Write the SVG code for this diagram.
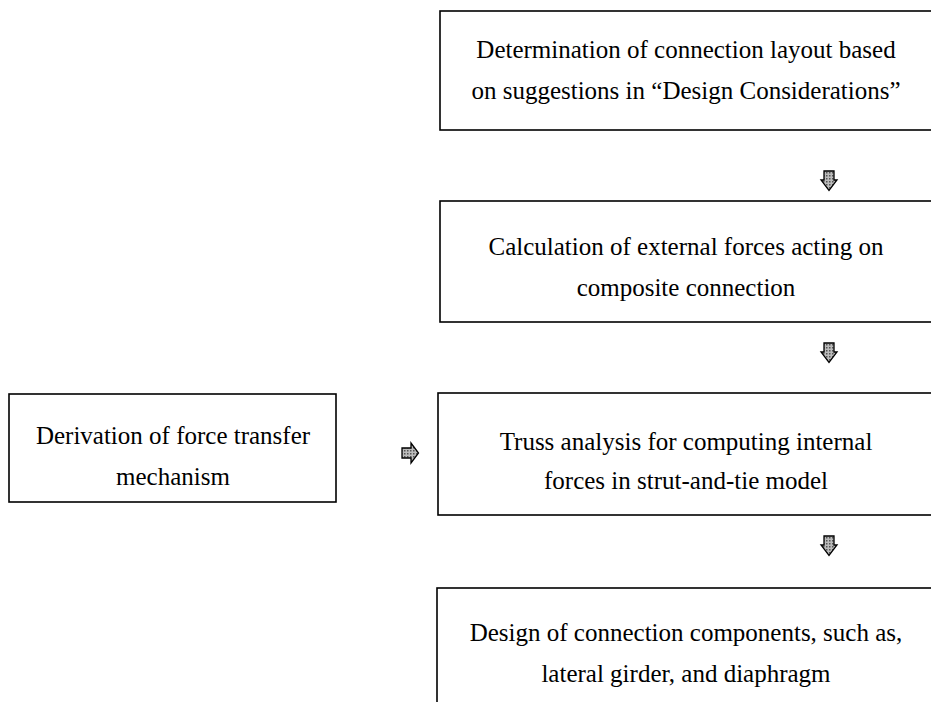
<svg xmlns="http://www.w3.org/2000/svg" width="931" height="702" viewBox="0 0 931 702">
  <style>
    .box { fill: #fff; stroke: #000; stroke-width: 1.6; }
    .lbl { font-family: "Liberation Serif", "Times New Roman", serif; font-size: 25px; fill: #000; text-anchor: middle; }
    .arw { fill: url(#dots); stroke: #000; stroke-width: 1.3; stroke-linejoin: miter; }
  </style>
  <defs>
    <pattern id="dots" width="3" height="3" patternUnits="userSpaceOnUse">
      <rect width="3" height="3" fill="#bbb"/>
      <rect width="1.5" height="1.5" fill="#555"/>
    </pattern>
    <!-- block arrows centred on (0,0) -->
    <path id="down" d="M -5 -10 H 5 V -1 H 8 L 0 9.5 L -8 -1 H -5 Z"/>
    <path id="right" d="M -8 -5 V 5 H 1 V 10 L 8.5 0 L 1 -10 V -5 Z"/>
  </defs>

  <g id="node-layout">
    <rect class="box" x="440" y="11" width="495" height="119"/>
    <text class="lbl" x="686" y="58">Determination of connection layout based</text>
    <text class="lbl" x="686" y="99">on suggestions in “Design Considerations”</text>
  </g>

  <g id="node-external-forces">
    <rect class="box" x="440" y="201" width="495" height="121"/>
    <text class="lbl" x="686" y="255">Calculation of external forces acting on</text>
    <text class="lbl" x="686" y="296">composite connection</text>
  </g>

  <g id="node-truss">
    <rect class="box" x="438" y="393" width="497" height="122"/>
    <text class="lbl" x="686" y="450">Truss analysis for computing internal</text>
    <text class="lbl" x="686" y="489">forces in strut-and-tie model</text>
  </g>

  <g id="node-design">
    <rect class="box" x="437" y="588" width="498" height="130"/>
    <text class="lbl" x="686" y="641">Design of connection components, such as,</text>
    <text class="lbl" x="686" y="682">lateral girder, and diaphragm</text>
  </g>

  <g id="node-mechanism">
    <rect class="box" x="9" y="394" width="327" height="108"/>
    <text class="lbl" x="173" y="444">Derivation of force transfer</text>
    <text class="lbl" x="173" y="485">mechanism</text>
  </g>

  <g id="connectors">
    <use href="#down" class="arw" x="829" y="181"/>
    <use href="#down" class="arw" x="829" y="353"/>
    <use href="#down" class="arw" x="829" y="546"/>
    <use href="#right" class="arw" x="410" y="453"/>
  </g>
</svg>
